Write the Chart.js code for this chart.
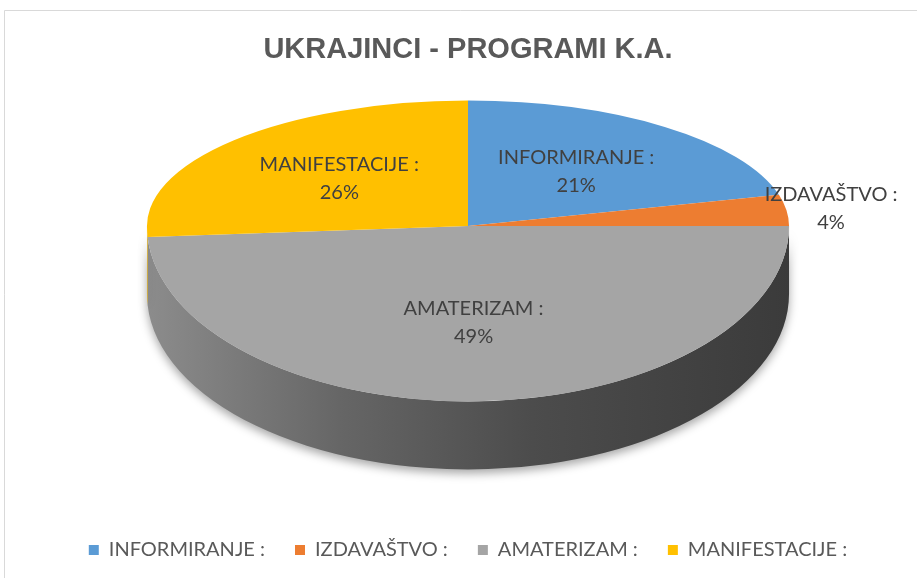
<!DOCTYPE html>
<html>
<head>
<meta charset="utf-8">
<script src="https://cdn.jsdelivr.net/npm/chart.js@4"></script>
<style>
  html, body { margin: 0; padding: 0; background: #fff; }
  canvas { display: block; }
</style>
</head>
<body>
<canvas id="programChart" width="917" height="578"></canvas>
<script>
const categories = ['INFORMIRANJE :', 'IZDAVAŠTVO :', 'AMATERIZAM :', 'MANIFESTACIJE :'];
const shares = [21, 4, 49, 26];
const sliceColors = ['#5b9bd5', '#ed7d31', '#a5a5a5', '#ffc000'];

// how the flat pie is tipped over, as fractions of the radius chart.js picks
const tilt = { rx: 1.51, back: 0.59, front: 0.825, lift: 0.335, depth: 0.32 };
const labelOut = [false, true, false, false];

function shade(hex, f) {
  const n = parseInt(hex.slice(1), 16);
  const r = Math.round(((n >> 16) & 255) * f);
  const g = Math.round(((n >> 8) & 255) * f);
  const b = Math.round((n & 255) * f);
  return 'rgb(' + r + ',' + g + ',' + b + ')';
}

function geometry(chart) {
  const arc = chart.getDatasetMeta(0).data[0];
  const R = arc.outerRadius;
  return {
    ox: arc.x, oy: arc.y, R: R,
    cx: arc.x, cy: Math.round(arc.y - tilt.lift * R),
    sx: tilt.rx, back: tilt.back, front: tilt.front,
    depth: tilt.depth * R
  };
}

const tiltedPie = {
  id: 'tiltedPie',
  beforeDraw(chart) {
    const ctx = chart.ctx;
    ctx.save();
    ctx.fillStyle = '#fff';
    ctx.fillRect(0, 0, chart.width, chart.height);
    ctx.strokeStyle = '#d9d9d9';
    ctx.lineWidth = 1;
    ctx.beginPath();
    ctx.moveTo(4.5, chart.height);
    ctx.lineTo(4.5, 10.5);
    ctx.lineTo(chart.width, 10.5);
    ctx.stroke();
    ctx.restore();
  },
  beforeDatasetsDraw(chart) {
    const ctx = chart.ctx;
    const meta = chart.getDatasetMeta(0);
    const g = geometry(chart);

    // side wall, only the front half shows
    ctx.save();
    ctx.translate(g.cx, g.cy);
    ctx.scale(g.sx, g.front);
    ctx.translate(-g.ox, -g.oy);
    const d = g.depth / g.front;
    meta.data.forEach(function(arc, i) {
      const a = Math.max(arc.startAngle, 0);
      const b = Math.min(arc.endAngle, Math.PI);
      if (b <= a) return;
      const col = sliceColors[i];
      const grad = ctx.createLinearGradient(g.ox - g.R, 0, g.ox + g.R, 0);
      grad.addColorStop(0, shade(col, 0.85));
      grad.addColorStop(0.3, shade(col, 0.62));
      grad.addColorStop(0.6, shade(col, 0.46));
      grad.addColorStop(1, shade(col, 0.36));
      ctx.beginPath();
      ctx.arc(g.ox, g.oy, g.R, a, b);
      ctx.arc(g.ox, g.oy + d, g.R, b, a, true);
      ctx.closePath();
      ctx.shadowColor = 'rgba(0,0,0,0.35)';
      ctx.shadowBlur = 10;
      ctx.shadowOffsetY = 4;
      ctx.fillStyle = grad;
      ctx.fill();
    });
    ctx.restore();

    // top face: far half is squeezed more than the near half
    [[g.back, 0, g.cy], [g.front, g.cy, chart.height]].forEach(function(part) {
      ctx.save();
      ctx.beginPath();
      ctx.rect(0, part[1], chart.width, part[2] - part[1]);
      ctx.clip();
      ctx.translate(g.cx, g.cy);
      ctx.scale(g.sx, part[0]);
      ctx.translate(-g.ox, -g.oy);
      meta.data.forEach(function(arc) { arc.draw(ctx); });
      ctx.restore();
    });
    return false;
  },
  afterDraw(chart) {
    const ctx = chart.ctx;
    const meta = chart.getDatasetMeta(0);
    const g = geometry(chart);
    const total = shares.reduce(function(s, v) { return s + v; }, 0);
    ctx.save();
    ctx.fillStyle = '#404040';
    ctx.font = '20px Lato';
    ctx.textAlign = 'center';
    ctx.textBaseline = 'middle';
    meta.data.forEach(function(arc, i) {
      const mid = (arc.startAngle + arc.endAngle) / 2;
      const f = labelOut[i] ? 1.14 : 0.55;
      const s = Math.sin(mid);
      const x = g.cx + g.sx * g.R * Math.cos(mid) * f;
      const y = g.cy + (s < 0 ? g.back : g.front) * g.R * s * f;
      ctx.fillText(categories[i], x, y - 14);
      ctx.fillText(Math.round(shares[i] / total * 100) + '%', x, y + 14);
    });
    ctx.restore();
  }
};

new Chart(document.getElementById('programChart'), {
  type: 'pie',
  data: {
    labels: categories,
    datasets: [{
      data: shares,
      backgroundColor: sliceColors,
      borderWidth: 0
    }]
  },
  options: {
    responsive: false,
    animation: false,
    layout: { padding: { left: 20, right: 1, top: 0, bottom: 8 } },
    plugins: {
      title: {
        display: true,
        text: 'UKRAJINCI - PROGRAMI K.A.',
        color: '#595959',
        font: { family: 'Liberation Sans', size: 29, weight: 'bold' },
        padding: { top: 33, bottom: 17 }
      },
      legend: {
        position: 'bottom',
        labels: {
          color: '#595959',
          font: { family: 'Lato', size: 20 },
          boxWidth: 10,
          boxHeight: 10,
          padding: 30
        }
      },
      tooltip: { enabled: false }
    }
  },
  plugins: [tiltedPie]
});
</script>
</body>
</html>
